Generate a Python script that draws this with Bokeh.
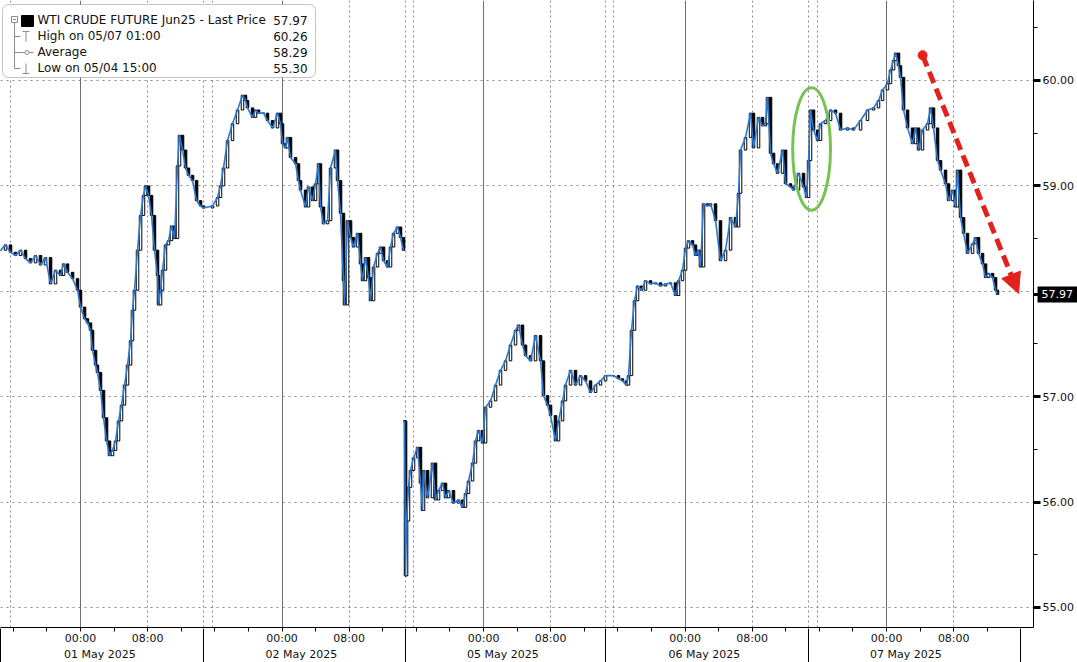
from bokeh.plotting import figure
from bokeh.models import (Range1d, LinearAxis, FixedTicker, Grid, BoxAnnotation, Label,
                          Arrow, NormalHead, GlobalInlineStyleSheet)
from bokeh.embed import file_html
from bokeh.resources import INLINE

# ---------------- data ----------------
day_starts = [0, 24, 48, 72, 96]          # hours; weekend removed
day_labels = ["01 May 2025", "02 May 2025", "05 May 2025", "06 May 2025", "07 May 2025"]
tick_offsets = [-8, -4, 0, 4, 8, 12]
tick_names = {0: "00:00", 8: "08:00"}
session_ends = [14.65, 38.71, 62.53, 86.71]
session_starts = [-8.34, 15.72, 39.66, 63.48, 87.78]
grid_levels = [55, 56, 57, 58, 59, 60]
y_ticks = [55, 56, 57, 57.97, 59, 60]
y_tick_labels = ["55.00", "56.00", "57.00", "", "59.00", "60.00"]
y_minor = [54.5, 55.5, 56.5, 57.5, 58.5, 59.5, 60.5]

A_h = [-9.53, -8.93, -8.34, -7.74, -7.15, -6.55, -5.96, -5.36, -4.76, -4.17, -3.57, -2.98, -2.38, -2.02,
       -1.55, -0.95, -0.36, 0.0, 0.48, 0.83, 1.19, 1.43, 1.79, 2.02, 2.38, 2.74, 3.10, 3.45, 3.81, 4.17,
       4.53, 4.88, 5.24, 5.60, 5.96, 6.19, 6.43, 6.79, 7.15, 7.50, 7.74, 8.10, 8.46, 8.81, 9.17, 9.29,
       9.53, 9.77, 10.12, 10.48, 10.84, 11.20, 11.55, 11.79, 12.15, 12.51, 12.86, 13.34, 13.82, 14.29, 14.65]
A_p = [58.39, 58.44, 58.37, 58.34, 58.39, 58.31, 58.27, 58.34, 58.25, 58.32, 58.07, 58.20, 58.15, 58.26,
       58.18, 58.12, 58.01, 57.85, 57.74, 57.70, 57.63, 57.44, 57.30, 57.23, 57.06, 56.80, 56.58, 56.44,
       56.49, 56.58, 56.77, 56.92, 57.11, 57.30, 57.53, 57.82, 58.01, 58.39, 58.72, 58.91, 59.00, 58.91,
       58.72, 58.39, 58.15, 57.87, 58.01, 58.20, 58.44, 58.48, 58.62, 58.50, 59.19, 59.48, 59.34, 59.17,
       59.10, 59.05, 58.86, 58.81, 58.79]
B_h = [15.72, 16.32, 16.67, 17.03, 17.51, 18.10, 18.70, 19.29, 19.65, 19.89, 20.49, 20.84, 21.20, 21.80,
       22.27, 22.87, 23.46, 23.82, 24.06, 24.42, 24.65, 25.01, 25.61, 25.96, 26.20, 26.80, 27.15, 27.63,
       27.99, 28.35, 28.58, 28.94, 29.42, 29.78, 30.37, 30.61, 30.97, 31.32, 31.44, 31.80, 32.16, 32.51,
       32.99, 33.35, 33.59, 33.94, 34.30, 34.54, 34.90, 35.37, 35.73, 36.09, 36.56, 36.92, 37.28, 37.75,
       38.11, 38.47]
B_p = [58.81, 58.89, 59.00, 59.17, 59.43, 59.59, 59.72, 59.86, 59.81, 59.74, 59.65, 59.72, 59.69, 59.69,
       59.62, 59.55, 59.69, 59.59, 59.40, 59.36, 59.46, 59.27, 59.21, 59.05, 58.96, 58.80, 58.99, 58.86,
       59.02, 59.21, 58.80, 58.64, 58.67, 59.17, 59.34, 59.05, 58.74, 58.10, 57.87, 58.67, 58.51, 58.42,
       58.55, 58.26, 58.10, 58.32, 58.13, 57.91, 58.23, 58.36, 58.42, 58.29, 58.23, 58.42, 58.55, 58.61,
       58.51, 58.39]
C_h = [38.59, 38.71, 38.83, 39.06, 39.30, 39.66, 40.14, 40.49, 40.73, 40.85, 41.33, 41.92, 42.28, 42.64,
       43.11, 43.47, 43.83, 44.42, 45.02, 45.50, 45.85, 46.21, 46.69, 47.04, 47.40, 47.88, 48.24, 48.83,
       49.43, 50.02, 50.62, 51.21, 51.81, 52.17, 52.64, 53.00, 53.60, 54.19, 54.79, 55.14, 55.62, 55.98,
       56.57, 56.93, 57.41, 57.76, 58.36, 58.95, 59.55, 60.15, 60.74, 61.34, 61.93, 62.53]
C_p = [56.77, 55.30, 55.82, 56.14, 56.30, 56.42, 56.52, 56.18, 55.92, 56.30, 56.04, 56.37, 56.02, 56.11,
       56.18, 56.04, 56.11, 55.99, 56.02, 55.95, 56.08, 56.20, 56.37, 56.58, 56.68, 56.56, 56.90, 56.96,
       57.11, 57.25, 57.34, 57.49, 57.63, 57.68, 57.49, 57.39, 57.34, 57.58, 57.34, 57.01, 56.92, 56.82,
       56.58, 56.77, 56.96, 57.11, 57.25, 57.11, 57.20, 57.15, 57.04, 57.11, 57.15, 57.20]
D_h = [63.48, 64.07, 64.55, 65.03, 65.26, 65.62, 65.98, 66.34, 66.81, 67.29, 67.89, 68.48, 69.08, 69.67,
       70.27, 70.86, 71.22, 71.70, 72.06, 72.41, 72.89, 73.25, 73.60, 73.84, 74.20, 74.68, 75.03, 75.63,
       76.22, 76.82, 77.42, 78.01, 78.37, 78.61, 79.20, 79.80, 80.15, 80.75, 81.23, 81.58, 81.82, 82.18,
       82.54, 83.01, 83.61, 83.97, 84.56, 84.92, 85.51, 86.11, 86.47, 86.71, 86.94, 87.30]
D_p = [57.20, 57.17, 57.15, 57.11, 57.20, 57.63, 57.91, 58.05, 58.01, 58.10, 58.07, 58.08, 58.05, 58.07,
       58.08, 57.96, 58.10, 58.20, 58.41, 58.48, 58.44, 58.34, 58.39, 58.23, 58.83, 58.81, 58.83, 58.67,
       58.29, 58.39, 58.70, 58.61, 58.93, 59.34, 59.46, 59.69, 59.36, 59.65, 59.57, 59.59, 59.84, 59.31,
       59.21, 59.12, 59.34, 59.02, 58.99, 58.96, 59.12, 58.99, 58.89, 59.24, 59.72, 59.53]
E_h = [87.78, 88.13, 88.73, 89.33, 89.92, 90.52, 91.35, 92.06, 92.90, 93.73, 94.45, 95.04, 95.52, 96.11,
       96.47, 96.83, 97.07, 97.42, 97.66, 98.02, 98.50, 99.09, 99.45, 99.81, 100.28, 100.88, 101.24,
       101.59, 102.07, 102.43, 103.02, 103.38, 103.86, 104.21, 104.45, 104.81, 105.17, 105.64, 106.24,
       106.59, 106.95, 107.43, 107.79, 108.14, 108.62, 108.98, 109.21]
E_p = [59.43, 59.59, 59.62, 59.72, 59.69, 59.53, 59.55, 59.53, 59.62, 59.72, 59.74, 59.81, 59.91, 59.97,
       60.10, 60.19, 60.26, 60.14, 60.03, 59.72, 59.55, 59.40, 59.55, 59.34, 59.53, 59.59, 59.74, 59.55,
       59.24, 59.15, 59.02, 58.86, 58.96, 58.80, 59.15, 58.70, 58.55, 58.36, 58.45, 58.51, 58.36, 58.26,
       58.13, 58.17, 58.13, 58.01, 57.97]

legend_names = ["WTI CRUDE FUTURE Jun25 - Last Price", "High on 05/07 01:00", "Average", "Low on 05/04 15:00"]
legend_values = ["57.97", "60.26", "58.29", "55.30"]
last_price = 57.97
last_price_text = "57.97"

# annotation anchors (hours, price)
arrow_start = (100.29, 60.24)
arrow_end = (111.72, 57.98)
ellipse_center = (87.07, 59.35)
ellipse_size = (4.5, 1.16)

for h, pr in [(A_h, A_p), (B_h, B_p), (C_h, C_p), (D_h, D_p), (E_h, E_p)]:
    assert len(h) == len(pr), (len(h), len(pr))

# ---------------- layout constants ----------------
X_LO, X_HI = -9.53, 113.5
Y_LO, Y_HI = 54.81, 60.759
PXH = 8.396     # reference px per hour
PXP = 105.4     # reference px per 1.00 price


def dx(px):
    return X_LO + px / PXH


def dy(py):
    return Y_HI - py / PXP


FONT = "DejaVu Sans"
BLUE = "#2a78d2"
RED = "#e3211c"

page_css = GlobalInlineStyleSheet(css="html, body { margin: 0 !important; padding: 0 !important; overflow: hidden !important; }")

p = figure(frame_width=1033, frame_height=627, output_backend="svg", toolbar_location=None,
           x_range=Range1d(X_LO, X_HI), y_range=Range1d(Y_LO, Y_HI),
           x_axis_location=None, y_axis_location="right",
           min_border_left=0, min_border_top=0, min_border_right=44, min_border_bottom=35)
p.stylesheets = [page_css]
p.outline_line_color = None
p.background_fill_color = "white"
p.border_fill_color = "white"

# ---- right axis ----
ya = p.yaxis[0]
ya.ticker = FixedTicker(ticks=y_ticks, minor_ticks=y_minor)
ya.major_label_overrides = dict(zip(y_ticks, y_tick_labels))
ya.axis_line_color = "black"
ya.axis_line_width = 1
ya.major_tick_out = 7
ya.major_tick_in = 0
ya.major_tick_line_width = 3
ya.minor_tick_out = 4
ya.minor_tick_in = 0
ya.major_label_standoff = 2
ya.major_label_text_font = FONT
ya.major_label_text_font_size = "11px"
ya.major_label_text_color = "#111111"

p.ygrid.visible = False
p.xgrid.visible = False
p.add_layout(Grid(dimension=1, ticker=FixedTicker(ticks=grid_levels),
                  grid_line_color="#8a8a8a", grid_line_dash="2 4", grid_line_width=1))

# last-price tag (placed in the right panel so that it is not clipped by the frame)
p.add_layout(Label(x=dx(1037), y=last_price, text=last_price_text, text_font=FONT, text_font_size="11px",
                   text_color="white", text_baseline="middle", text_align="left",
                   background_fill_color="black", padding=4), "right")

# ---- bottom axes ----
time_ticks = [d + o for d in day_starts for o in tick_offsets]
time_over = {d + o: tick_names.get(o, "") for d in day_starts for o in tick_offsets}
tax = LinearAxis(ticker=FixedTicker(ticks=time_ticks), major_label_overrides=time_over,
                 axis_line_color="black", major_tick_out=4, major_tick_in=0,
                 minor_tick_out=0, minor_tick_in=0,
                 major_label_standoff=0, major_label_text_font=FONT,
                 major_label_text_font_size="11px", major_label_text_color="#111111")
p.add_layout(tax, "below")

date_ticks = [d + 2.3 for d in day_starts]
sep_ticks = [-9.5] + session_ends + [111.96]
dax = LinearAxis(ticker=FixedTicker(ticks=date_ticks, minor_ticks=sep_ticks),
                 major_label_overrides=dict(zip(date_ticks, day_labels)),
                 axis_line_color=None, major_tick_line_color=None, major_tick_out=17, major_tick_in=0,
                 minor_tick_line_color="black", minor_tick_out=17, minor_tick_in=19,
                 major_label_standoff=-17, major_label_text_font=FONT,
                 major_label_text_font_size="11px", major_label_text_color="#111111")
p.add_layout(dax, "below")

# ---- vertical grids ----
p.add_layout(Grid(dimension=0, ticker=FixedTicker(ticks=day_starts),
                  grid_line_color="#6f6f6f", grid_line_width=1))
dotted = [d + 8 for d in day_starts] + session_ends + session_starts
p.add_layout(Grid(dimension=0, ticker=FixedTicker(ticks=dotted),
                  grid_line_color="#8a8a8a", grid_line_dash="2 3", grid_line_width=1))

# ---- price ----
for hs, ps in [(A_h + B_h, A_p + B_p), (C_h + D_h + E_h, C_p + D_p + E_p)]:
    opens = [ps[0]] + ps[:-1]
    tops = [max(o, c) for o, c in zip(opens, ps)]
    bots = [min(o, c) for o, c in zip(opens, ps)]
    fills = ["white" if c >= o else "black" for o, c in zip(opens, ps)]
    p.vbar(x=hs, width=0.3, top=tops, bottom=bots, fill_color=fills, line_color="black", line_width=1)
    p.line(hs, ps, line_color=BLUE, line_width=1.6)

# ---- annotations: green ellipse, red arrow ----
p.ellipse(x=[ellipse_center[0]], y=[ellipse_center[1]], width=[ellipse_size[0]], height=[ellipse_size[1]],
          fill_color=None, line_color="#77c253", line_width=3)
p.add_layout(Arrow(x_start=arrow_start[0], y_start=arrow_start[1], x_end=arrow_end[0], y_end=arrow_end[1],
                   line_color=RED, line_width=5, line_dash="12 6",
                   end=NormalHead(size=20, fill_color=RED, line_color=RED, line_width=1)))
p.scatter([arrow_start[0]], [arrow_start[1]], size=9, color=RED)

# ---- legend box ----
p.add_layout(BoxAnnotation(left=dx(2), right=dx(315), top=dy(4), bottom=dy(77),
                           fill_color="white", fill_alpha=1, line_color="#3a3a3a", line_width=1,
                           border_radius=6))
GRAY = "#8c8c8c"
seg = dict(line_color=GRAY, line_width=1, level="overlay")
p.segment(x0=[dx(14), dx(14), dx(14), dx(14)], y0=[dy(22), dy(36), dy(52), dy(68)],
          x1=[dx(14), dx(20), dx(20), dx(20)], y1=[dy(68), dy(36), dy(52), dy(68)], **seg)
p.quad(left=[dx(11)], right=[dx(17)], top=[dy(16)], bottom=[dy(22)], fill_color="white",
       line_color=GRAY, level="overlay")
p.segment(x0=[dx(12.5)], y0=[dy(19)], x1=[dx(15.5)], y1=[dy(19)], **seg)
p.quad(left=[dx(21)], right=[dx(33)], top=[dy(15)], bottom=[dy(26)], fill_color="black",
       line_color="black", level="overlay")
p.segment(x0=[dx(22), dx(25.5), dx(20), dx(25.5), dx(22)], y0=[dy(31), dy(31), dy(52), dy(63), dy(73)],
          x1=[dx(29), dx(25.5), dx(33), dx(25.5), dx(29)], y1=[dy(31), dy(41), dy(52), dy(73), dy(73)],
          **seg)
p.scatter([dx(26.5)], [dy(52)], size=4, marker="circle", fill_color="white", line_color=GRAY,
          level="overlay")

for i, (name, val) in enumerate(zip(legend_names, legend_values)):
    yy = dy(20 + 16 * i)
    p.add_layout(Label(x=dx(37), y=yy, text=name, text_font=FONT, text_font_size="12px",
                       text_color="#111111", text_baseline="middle", text_align="left"))
    p.add_layout(Label(x=dx(307), y=yy, text=val, text_font=FONT, text_font_size="12px",
                       text_color="#111111", text_baseline="middle", text_align="right"))

open("out.html", "w").write(file_html(p, INLINE))
